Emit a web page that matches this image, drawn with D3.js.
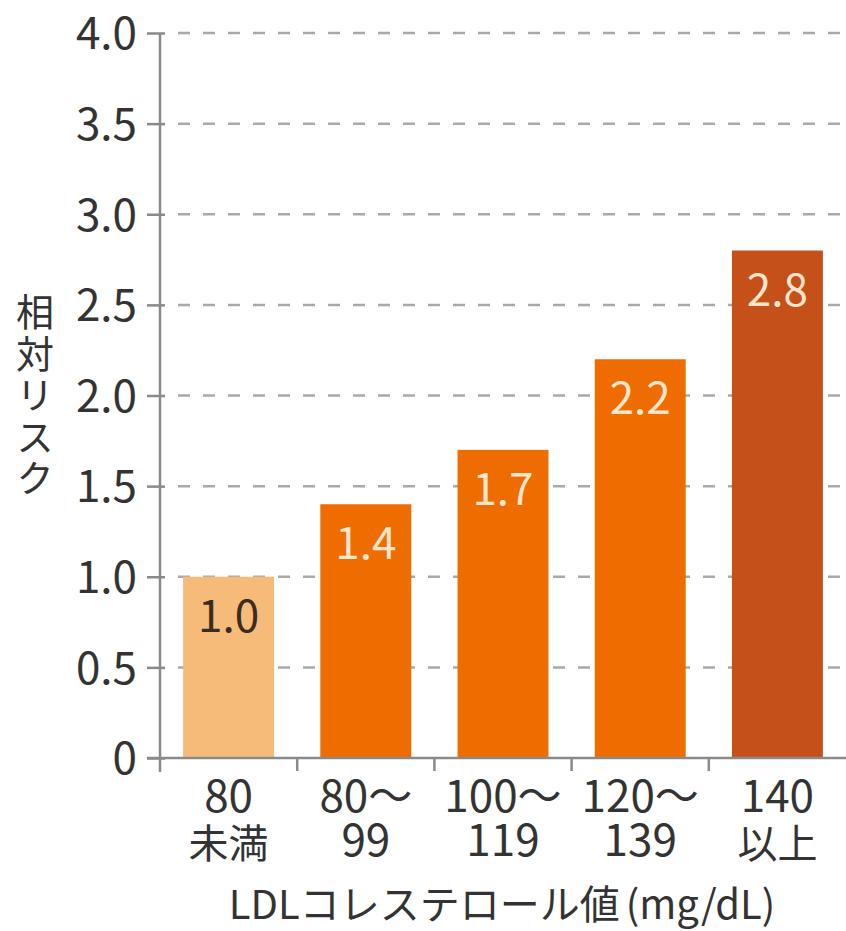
<!DOCTYPE html>
<html lang="ja">
<head>
<meta charset="utf-8">
<script src="https://cdn.jsdelivr.net/npm/d3@7/dist/d3.min.js"></script>
<style>
  html, body { margin: 0; padding: 0; background: #fff; }
  svg { display: block; }
  text { font-family: "Noto Sans CJK JP", "Noto Sans", sans-serif; fill: #333; }
</style>
</head>
<body>
<svg id="chart" width="846" height="931"></svg>
<script>
// LDL cholesterol ranges (upper and lower label lines) and relative risk
const categories = ["80未満", "80～99", "100～119", "120～139", "140以上"];
const labelTop = ["80", "80～", "100～", "120～", "140"];
const labelBottom = ["未満", "99", "119", "139", "以上"];
const riskValues = [1.0, 1.4, 1.7, 2.2, 2.8];
const valueLabels = ["1.0", "1.4", "1.7", "2.2", "2.8"];
const yTicks = [0, 0.5, 1.0, 1.5, 2.0, 2.5, 3.0, 3.5, 4.0];
const yTickLabels = ["0", "0.5", "1.0", "1.5", "2.0", "2.5", "3.0", "3.5", "4.0"];
const barColors = ["#F6BB78", "#EE6C00", "#EE6C00", "#EE6C00", "#C5501A"];
const labelColors = ["#3a2c20", "#FDE6CC", "#FDE6CC", "#FDE6CC", "#FDE6CC"];
const yTitle = "相対リスク";
const xTitleMain = "LDLコレステロール値";
const xTitleUnit = "(mg/dL)";

const svg = d3.select("#chart");
const plotLeft = 160, plotRight = 846, plotTop = 33, plotBottom = 758;

const x = d3.scaleBand()
  .domain(categories)
  .range([plotLeft, plotRight])
  .paddingInner(0.337)
  .paddingOuter(0.1685);

const y = d3.scaleLinear().domain([0, 4]).range([plotBottom, plotTop]);

// dashed horizontal gridlines
svg.append("g")
  .selectAll("line")
  .data(yTicks.filter(d => d > 0))
  .join("line")
  .attr("x1", plotLeft + 18).attr("x2", plotRight)
  .attr("y1", d => y(d)).attr("y2", d => y(d))
  .attr("stroke", "#a9a9a9")
  .attr("stroke-width", 2.5)
  .attr("stroke-dasharray", "12,13");

// bars
svg.append("g")
  .selectAll("rect")
  .data(riskValues)
  .join("rect")
  .attr("x", (d, i) => x(categories[i]))
  .attr("width", x.bandwidth())
  .attr("y", d => y(d))
  .attr("height", d => y(0) - y(d))
  .attr("fill", (d, i) => barColors[i]);

// value labels inside the bar tops
svg.append("g")
  .selectAll("text")
  .data(riskValues)
  .join("text")
  .attr("x", (d, i) => x(categories[i]) + x.bandwidth() / 2)
  .attr("y", d => y(d) + 55)
  .attr("text-anchor", "middle")
  .attr("font-size", 44)
  .style("fill", (d, i) => labelColors[i])
  .text((d, i) => valueLabels[i]);

// y axis
const yAxis = d3.axisLeft(y)
  .tickValues(yTicks)
  .tickFormat((d, i) => yTickLabels[i])
  .tickSize(13)
  .tickPadding(10);
const gy = svg.append("g").attr("transform", `translate(${plotLeft},0)`).call(yAxis);
gy.select(".domain").remove();
gy.selectAll(".tick line").attr("stroke", "#8a8a8a").attr("stroke-width", 2.5).attr("x2", 5).attr("x1", -13);
gy.selectAll(".tick text")
  .attr("font-size", 44)
  .attr("font-family", "'Noto Sans CJK JP', sans-serif")
  .style("fill", "#333")
  .attr("dy", "0.36em");
svg.append("line")
  .attr("x1", plotLeft).attr("x2", plotLeft)
  .attr("y1", plotTop).attr("y2", plotBottom + 14)
  .attr("stroke", "#8a8a8a").attr("stroke-width", 2.5);

// x axis: baseline plus ticks at band boundaries
svg.append("line")
  .attr("x1", plotLeft - 13).attr("x2", plotRight)
  .attr("y1", plotBottom).attr("y2", plotBottom)
  .attr("stroke", "#8a8a8a").attr("stroke-width", 2.5);
const boundaries = categories.slice(1).map(c => x(c) - x.step() * x.paddingInner() / 2);
svg.append("g")
  .selectAll("line")
  .data(boundaries)
  .join("line")
  .attr("x1", d => d).attr("x2", d => d)
  .attr("y1", plotBottom).attr("y2", plotBottom + 13)
  .attr("stroke", "#8a8a8a").attr("stroke-width", 2.5);

// two-line category labels
const isKanji = s => /[\u4e00-\u9fff]/.test(s);
svg.append("g")
  .selectAll("text")
  .data(labelTop)
  .join("text")
  .attr("x", (d, i) => x(categories[i]) + x.bandwidth() / 2)
  .attr("y", 812)
  .attr("text-anchor", "middle")
  .attr("font-size", 44)
  .text(d => d);
svg.append("g")
  .selectAll("text")
  .data(labelBottom)
  .join("text")
  .attr("x", (d, i) => x(categories[i]) + x.bandwidth() / 2)
  .attr("y", d => isKanji(d) ? 858 : 856)
  .attr("text-anchor", "middle")
  .attr("font-size", d => isKanji(d) ? 40 : 44)
  .text(d => d);

// y title, stacked vertically
svg.append("text")
  .attr("x", 35)
  .attr("y", 293)
  .attr("font-size", 38)
  .style("writing-mode", "vertical-rl")
  .style("text-orientation", "upright")
  .style("letter-spacing", "3.5px")
  .attr("text-anchor", "start")
  .text(yTitle);

// x title
const xt = svg.append("text")
  .attr("x", 502)
  .attr("y", 919)
  .attr("text-anchor", "middle")
  .attr("font-size", 40);
xt.append("tspan").text(xTitleMain);
xt.append("tspan").attr("dx", 6).text(xTitleUnit);
</script>
</body>
</html>
